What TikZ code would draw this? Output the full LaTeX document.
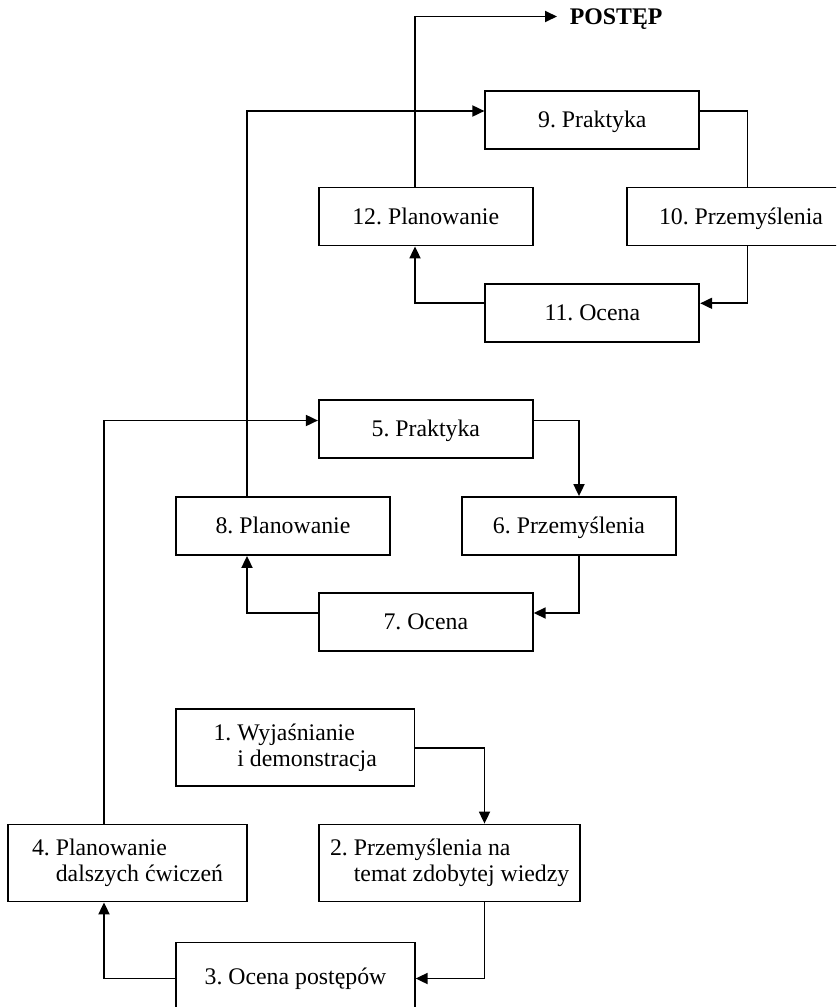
\documentclass[tikz,border=0pt]{standalone}
\usepackage{fontspec}
\setmainfont{Liberation Serif}
\usetikzlibrary{arrows.meta}
\frenchspacing

\begin{document}
\begin{tikzpicture}[
            x=1pt, y=-1pt,
            >={Triangle[length=12pt,width=11pt]},
            line width=1.8pt,
            box/.style={draw, inner sep=0pt, font=\fontsize{23.8}{26.5}\selectfont},
            stage/.style={box, minimum width=214pt, minimum height=58pt,
                text height=18pt, text depth=2.2pt},
            twoline/.style={box, minimum width=238.5pt, minimum height=77pt, align=left},
            lbl/.style={font=\fontsize{23.8}{26.5}\selectfont\bfseries,
                inner xsep=12pt, inner ysep=0pt, text depth=0pt}
        ]
            \def\Xa{104} \def\Xb{247} \def\Xc{415} \def\Xd{484.5} \def\Xe{579} \def\Xf{747.5}
            \def\Yb{111} \def\Yc{303.3} \def\Yd{420.5} \def\Ye{613}
            \clip (0,0) rectangle (836,1007);
            % first loop
            \node[twoline] (b1) at (295.2,747.7) {1. Wyjaśnianie\\\phantom{1. }i demonstracja};
            \node[twoline, minimum width=260.7pt] (b2) at (449.7,863) {2. Przemyślenia na\\\phantom{2. }temat zdobytej wiedzy};
            \node[twoline, minimum height=72pt] (b3) at (295.5,978.5) {3. Ocena postępów};
            \node[twoline] (b4) at (127.5,863) {4. Planowanie\\\phantom{4. }dalszych ćwiczeń};
            % second loop
            \node[stage] (b5) at (425.8,429) {5. Praktyka};
            \node[stage] (b6) at (569,526) {6. Przemyślenia};
            \node[stage] (b7) at (425.8,621.8) {7. Ocena};
            \node[stage] (b8) at (283,526) {8. Planowanie};
            % third loop
            \node[stage] (b9) at (592.3,120) {9. Praktyka};
            \node[stage, minimum width=228pt] (b10) at (741,216.5) {10. Przemyślenia};
            \node[stage] (b11) at (592.3,313) {11. Ocena};
            \node[stage] (b12) at (425.7,216.5) {12. Planowanie};
            \node[lbl, anchor=west] (postep) at (557,16.5) {POSTĘP};
            % connectors, first loop
            \draw[->] (b1.east) -| (b2.north -| \Xd,0);
            \draw[->] (b2.south -| \Xd,0) |- (b3.east);
            \draw[->] (b3.west) -| (b4.south -| \Xa,0);
            \draw[->] (b4.north -| \Xa,0) |- (b5.west |- 0,\Yd);
            % connectors, second loop
            \draw[->] (b5.east |- 0,\Yd) -| (b6.north -| \Xe,0);
            \draw[->] (b6.south -| \Xe,0) |- (b7.east |- 0,\Ye);
            \draw[->] (b7.west |- 0,\Ye) -| (b8.south -| \Xb,0);
            \draw[->] (b8.north -| \Xb,0) |- (b9.west |- 0,\Yb);
            % connectors, third loop
            \draw (b9.east |- 0,\Yb) -| (b10.north -| \Xf,0);
            \draw[->] (b10.south -| \Xf,0) |- (b11.east |- 0,\Yc);
            \draw[->] (b11.west |- 0,\Yc) -| (b12.south -| \Xc,0);
            \draw[->] (b12.north -| \Xc,0) |- (postep.west);
        \end{tikzpicture}
\end{document}
